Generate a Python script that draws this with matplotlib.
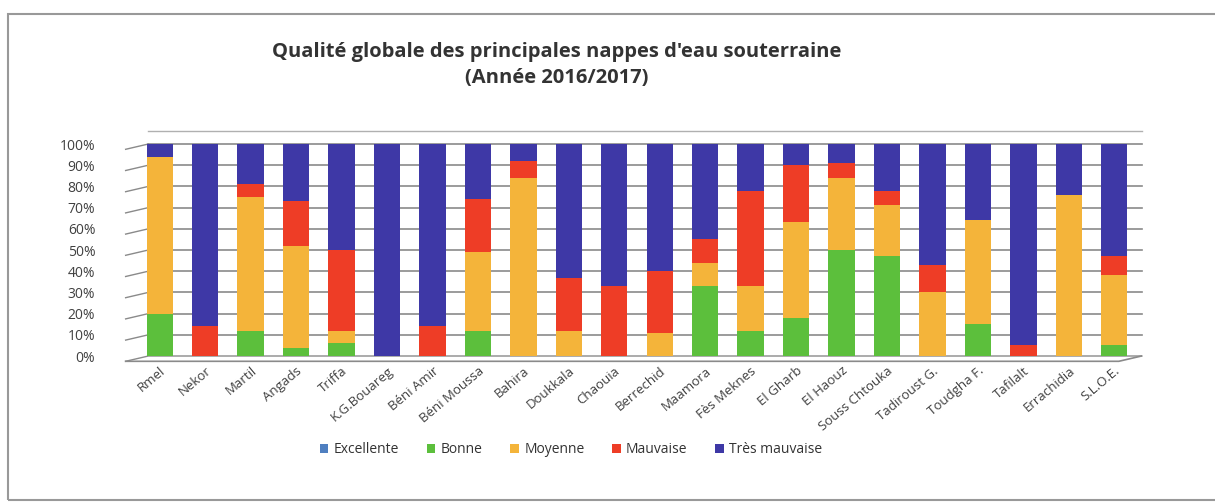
import matplotlib.pyplot as plt
from matplotlib.patches import Rectangle
import numpy as np

nappes = ["Rmel", "Nekor", "Martil", "Angads", "Triffa", "K.G.Bouareg", "Béni Amir",
          "Béni Moussa", "Bahira", "Doukkala", "Chaouia", "Berrechid", "Maamora",
          "Fès Meknes", "El Gharb", "El Haouz", "Souss Chtouka", "Tadiroust G.",
          "Toudgha F.", "Tafilalt", "Errachidia", "S.L.O.E."]

excellente = [0, 0, 0, 0, 0, 0, 0, 0, 0, 0, 0, 0, 0, 0, 0, 0, 0, 0, 0, 0, 0, 0]
bonne = [20, 0, 12, 4, 6, 0, 0, 12, 0, 0, 0, 0, 33, 12, 18, 50, 47, 0, 15, 0, 0, 5]
moyenne = [74, 0, 63, 48, 6, 0, 0, 37, 84, 12, 0, 11, 11, 21, 45, 34, 24, 30, 49, 0, 76, 33]
mauvaise = [0, 14, 6, 21, 38, 0, 14, 25, 8, 25, 33, 29, 11, 45, 27, 7, 7, 13, 0, 5, 0, 9]
tres_mauvaise = [6, 86, 19, 27, 50, 100, 86, 26, 8, 63, 67, 60, 45, 22, 10, 9, 22, 57, 36, 95, 24, 53]

series = [("Excellente", excellente, "#4f7fc0"),
          ("Bonne", bonne, "#5cbf3c"),
          ("Moyenne", moyenne, "#f4b43a"),
          ("Mauvaise", mauvaise, "#ee3d26"),
          ("Très mauvaise", tres_mauvaise, "#3e38a6")]

plt.rcParams['font.family'] = ['Open Sans', 'DejaVu Sans']

fig = plt.figure(figsize=(12.15, 5.04), dpi=100)
ax = fig.add_axes([137 / 1215, 148 / 504, 1000 / 1215, 212 / 504])

x = np.arange(len(nappes))
bottom = np.zeros(len(nappes))
for name, vals, col in series:
    vals = np.array(vals, dtype=float)
    ax.bar(x, vals, 0.58, bottom=bottom, color=col, label=name, zorder=3)
    bottom += vals

ax.set_xlim(-0.5, len(nappes) - 0.5)
ax.set_ylim(0, 100)
yt = list(range(0, 101, 10))
ax.set_yticks(yt)
ax.set_yticklabels([f"{v}%" for v in yt], fontsize=10, color="#404040")
ax.tick_params(axis='y', length=0, pad=30)
ax.tick_params(axis='x', length=0, pad=6)
ax.set_xticks(x)
ax.set_xticklabels(nappes, rotation=40, ha='right', rotation_mode='anchor',
                   fontsize=9.5, color="#404040")
for s in ["top", "right", "left", "bottom"]:
    ax.spines[s].set_visible(False)

# back-wall gridlines with a small slanted side wall on the left (3D look)
grid_col = "#8a8a8a"
for v in yt[1:]:
    ax.plot([-0.25, len(nappes) - 0.4], [v, v], color=grid_col, lw=1.2,
            zorder=0, clip_on=False)
    ax.plot([-0.75, -0.25], [v - 2.5, v], color=grid_col, lw=1.0,
            zorder=0, clip_on=False)
ax.plot([-0.25, len(nappes) - 0.4], [106, 106], color="#b0b0b0", lw=1.0,
        zorder=0, clip_on=False)
ax.plot([-0.75, len(nappes) - 0.9, len(nappes) - 0.4], [-2.5, -2.5, 0],
        color=grid_col, lw=1.2, zorder=0, clip_on=False)
ax.plot([-0.75, -0.25, len(nappes) - 0.4], [-2.5, 0, 0],
        color=grid_col, lw=1.0, zorder=0, clip_on=False)

fig.text(0.458, 0.897, "Qualité globale des principales nappes d'eau souterraine",
         ha='center', va='center', fontsize=14.5, fontweight='bold', color="#333333")
fig.text(0.458, 0.845, "(Année 2016/2017)",
         ha='center', va='center', fontsize=14.5, fontweight='bold', color="#333333")

fig.legend(loc='center', bbox_to_anchor=(0.47, 0.108), ncol=5, frameon=False,
           fontsize=10, handlelength=0.6, handleheight=0.6, columnspacing=2.0,
           handletextpad=0.4, labelcolor="#333333")

fig.patches.append(Rectangle((8 / 1215, 4 / 504), 1.0, 486 / 504,
                             transform=fig.transFigure, fill=False,
                             edgecolor="#999999", linewidth=1.5))

fig.savefig("out.png", dpi=100)
